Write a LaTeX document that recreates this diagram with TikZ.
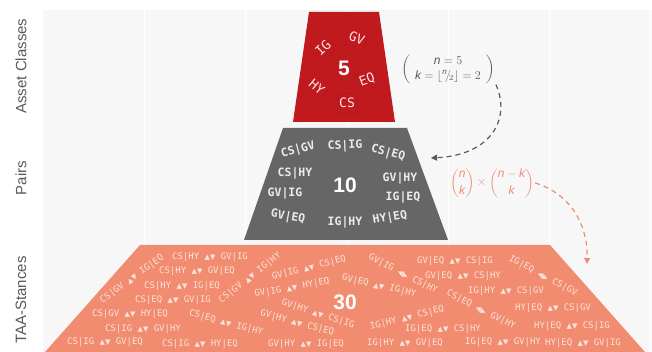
\documentclass[tikz,border=0pt]{standalone}
\usepackage{amsmath}
\usepackage{fontspec}
\setmainfont{Liberation Sans}
\newfontfamily\tagfont{DejaVu Sans Mono}
\newfontfamily\symfont{DejaVu Sans}
\usetikzlibrary{arrows.meta}

\definecolor{assetred}{HTML}{C0191E}
\definecolor{pairgrey}{HTML}{666666}
\definecolor{stancesalmon}{HTML}{F18C70}
\definecolor{plotbg}{HTML}{F7F7F7}
\definecolor{axisgrey}{HTML}{595959}
\definecolor{stancetext}{HTML}{FCE3D9}

\newcommand{\ud}{{\symfont\fontsize{7}{7}\selectfont ▲▼}}
\newcommand{\lr}{{\symfont\fontsize{7}{7}\selectfont ◀▶}}
\newcommand{\vn}{\text{\itshape n}}
\newcommand{\vk}{\text{\itshape k}}

\begin{document}
\begin{tikzpicture}[
    x=1pt, y=-1pt,
    axislabel/.style={rotate=90, text=axisgrey, font=\fontsize{15}{15}\selectfont},
    count/.style={text=white, font=\bfseries\fontsize{21}{21}\selectfont},
    asset/.style={draw=assetred!70!black, draw opacity=0.2, line width=0.4pt, minimum size=20pt, inner sep=1pt, text=red!10!white, font=\tagfont\fontsize{13}{13}\selectfont},
    pair/.style={inner sep=1pt, text=white!92!black, font=\tagfont\bfseries\fontsize{11.5}{12}\selectfont},
    stance/.style={inner sep=1pt, text=stancetext, font=\tagfont\fontsize{9}{9}\selectfont},
    formula/.style={inner sep=1pt, font=\fontsize{12}{14.4}\selectfont},
    link/.style={-{Triangle[length=6pt,width=6pt]}, line width=1.2pt, dash pattern=on 5pt off 4pt}
]
    \useasboundingbox (0,0) rectangle (652,352);

    % plot area and grid
    \fill[plotbg] (43,10) rectangle (652,352);
    \draw[white, line width=1pt] (144,10) -- (144,352) (245,10) -- (245,352) (347,10) -- (347,352)
        (448,10) -- (448,352) (549,10) -- (549,352) (650,10) -- (650,352);

    % funnel levels
    \fill[assetred] (309,12) -- (379,12) -- (395,122) -- (293,122) -- cycle;
    \fill[pairgrey] (283,128) -- (407,128) -- (448,240) -- (244,240) -- cycle;
    \fill[stancesalmon] (140,245) -- (550,245) -- (645,352) -- (45,352) -- cycle;

    % axis labels
    \node[axislabel] (lblassets) at (21,66) {Asset Classes};
    \node[axislabel] (lblpairs) at (21,178) {Pairs};
    \node[axislabel] (lblstances) at (21,300) {TAA-Stances};

    % asset classes
    \node[count] (nassets) at (344,68) {5};
    \node[asset, rotate=44] (ig) at (323,48) {IG};
    \node[asset, rotate=-22] (gv) at (357,38) {GV};
    \node[asset, rotate=20] (eq) at (367,80) {EQ};
    \node[asset, rotate=-40] (hy) at (317,87) {HY};
    \node[asset] (cs) at (347,103) {CS};

    % pairs
    \node[count] (npairs) at (345,185) {10};
    \node[pair, rotate=15] (csgv) at (298,150) {CS|GV};
    \node[pair, rotate=3] (csig) at (345,146) {CS|IG};
    \node[pair, rotate=-15] (cseq) at (388,153) {CS|EQ};
    \node[pair] (cshy) at (295,173) {CS|HY};
    \node[pair] (gvhy) at (400,178) {GV|HY};
    \node[pair] (gvig) at (285,193) {GV|IG};
    \node[pair] (igeq) at (403,197) {IG|EQ};
    \node[pair, rotate=-10] (gveq) at (288,217) {GV|EQ};
    \node[pair] (ighy) at (345,222) {IG|HY};
    \node[pair, rotate=10] (hyeq) at (390,218) {HY|EQ};

    % TAA-stances
    \node[count] (nstances) at (345,302) {30};
    \node[stance, rotate=36] (stance1) at (132,279) {CS|GV \ud{} IG|EQ};
    \node[stance] (stance2) at (210,257) {CS|HY \ud{} GV|IG};
    \node[stance] (stance3) at (197,271) {CS|HY \ud{} GV|EQ};
    \node[stance] (stance4) at (182,286) {CS|HY \ud{} IG|EQ};
    \node[stance] (stance5) at (173,300) {CS|EQ \ud{} GV|IG};
    \node[stance] (stance6) at (130,314) {CS|GV \ud{} HY|EQ};
    \node[stance] (stance7) at (143,329) {CS|IG \ud{} GV|HY};
    \node[stance] (stance8) at (105,342) {CS|IG \ud{} GV|EQ};
    \node[stance] (stance9) at (200,344) {CS|IG \ud{} HY|EQ};
    \node[stance, rotate=-15] (stance10) at (226,323) {CS|EQ \ud{} IG|HY};
    \node[stance, rotate=38] (stance11) at (250,278) {CS|GV \ud{} IG|HY};
    \node[stance, rotate=14] (stance12) at (309,268) {GV|IG \ud{} CS|EQ};
    \node[stance, rotate=10] (stance13) at (292,288) {GV|IG \ud{} HY|EQ};
    \node[stance, rotate=-13] (stance14) at (379,286) {GV|EQ \ud{} IG|HY};
    \node[stance, rotate=-27] (stance15) at (403,274) {GV|IG \lr{} CS|HY};
    \node[stance, rotate=-18] (stance16) at (318,314) {GV|HY \ud{} CS|IG};
    \node[stance, rotate=-15] (stance17) at (297,323) {GV|HY \ud{} CS|EQ};
    \node[stance] (stance18) at (306,344) {GV|HY \ud{} IG|EQ};
    \node[stance, rotate=14] (stance19) at (407,318) {IG|HY \ud{} CS|EQ};
    \node[stance] (stance20) at (443,329) {IG|EQ \ud{} CS|HY};
    \node[stance] (stance21) at (405,343) {IG|HY \ud{} GV|EQ};
    \node[stance] (stance22) at (455,261) {GV|EQ \ud{} CS|IG};
    \node[stance] (stance23) at (463,276) {GV|EQ \ud{} CS|HY};
    \node[stance, rotate=-27] (stance24) at (481,310) {CS|EQ \lr{} GV|HY};
    \node[stance] (stance25) at (506,291) {IG|HY \ud{} CS|GV};
    \node[stance, rotate=-28] (stance26) at (543,276) {IG|EQ \lr{} CS|GV};
    \node[stance] (stance27) at (553,308) {HY|EQ \ud{} CS|GV};
    \node[stance] (stance28) at (572,326) {HY|EQ \ud{} CS|IG};
    \node[stance] (stance29) at (583,343) {HY|EQ \ud{} GV|IG};
    \node[stance] (stance30) at (503,342) {IG|EQ \ud{} GV|HY};

    % formulas and links
    \node[formula, text=axisgrey] (nk) at (448,69)
        {$\left(\begin{array}{c}\vn = 5\\ \vk = \lfloor {}^{\vn}\!/\!{}_{2}\rfloor = 2\end{array}\right)$};
    \node[formula, text=stancesalmon] (comb) at (492,183) {$\dbinom{\vn}{\vk}\times\dbinom{\vn-\vk}{\vk}$};
    \coordinate (pairsin) at (431,158);
    \coordinate (stancesin) at (587,264);

    \draw[link, axisgrey] (nk.south east) .. controls (511,118) and (492,155) .. (pairsin);
    \draw[link, stancesalmon] (comb.east) .. controls (566,192) and (588,220) .. (stancesin);
\end{tikzpicture}
\end{document}
